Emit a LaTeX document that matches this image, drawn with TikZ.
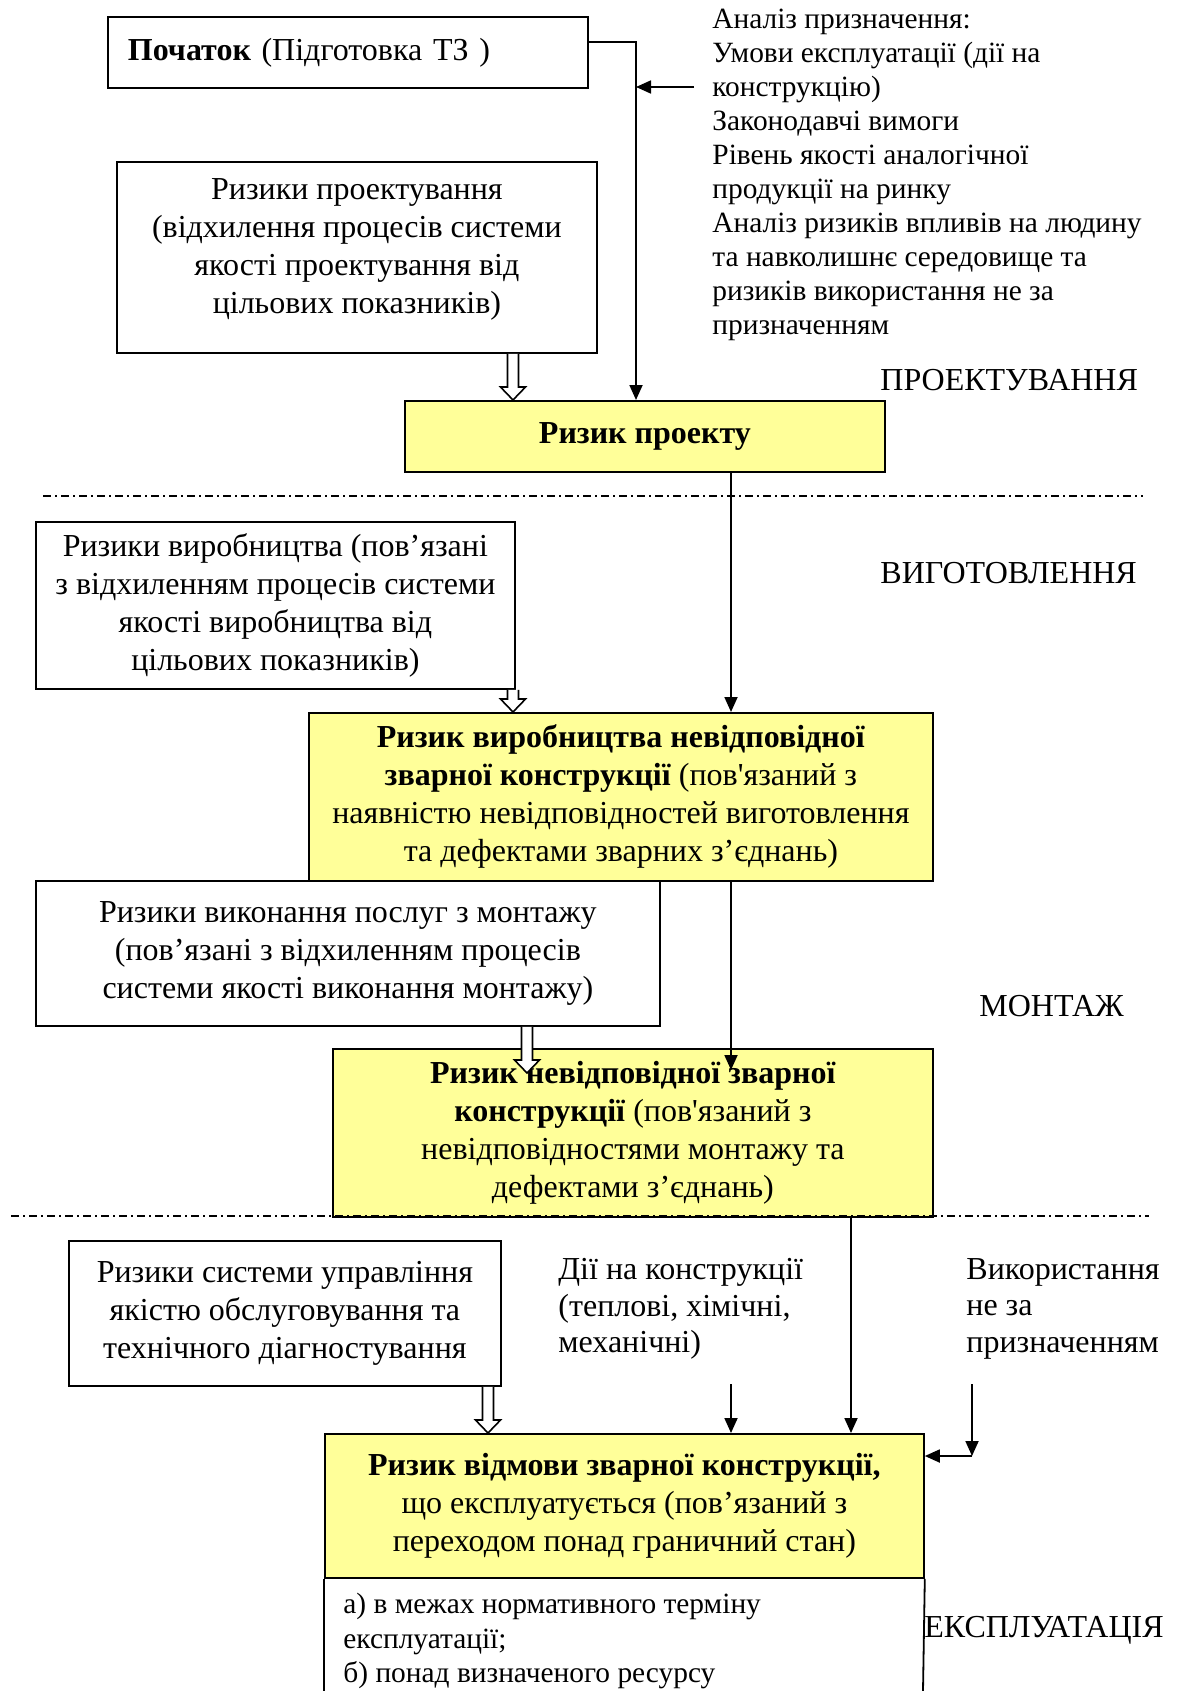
\documentclass[tikz,border=0pt]{standalone}
\usepackage{fontspec}
\setmainfont{Liberation Serif}
\newfontfamily\plainfont{Liberation Serif}
\usetikzlibrary{calc,arrows.meta}
\definecolor{boxyellow}{RGB}{255,255,153}
\newcommand\sq{{\plainfont\symbol{39}}}
\newcommand\hollowarr[4]{%
  \coordinate (hx) at (#1,0);
  \draw[line width=0.8pt, fill=white]
    ($(hx |- #2.south)+(-5.5,0)$) -- ($(hx |- #3.north)+(-5.5,#4-13)$) -- ++(-7,0)
    -- ($(hx |- #3.north)+(0,#4)$) -- ++(12.5,-13) -- ++(-7,0)
    -- ($(hx |- #2.south)+(5.5,0)$);
}
\tikzset{
  box/.style={draw, line width=0.9pt, inner sep=0pt, align=center, anchor=north west,
    font=\fontsize{16}{19}\selectfont},
  ybox/.style={box, fill=boxyellow},
  lbl/.style={inner sep=0pt, anchor=west, font=\fontsize{16}{19}\selectfont},
  small/.style={inner sep=0pt, anchor=north west, align=left, font=\fontsize{14.7}{17}\selectfont},
  conn/.style={line width=0.9pt, -{Triangle[length=7.5pt,width=6.5pt]}},
  sep/.style={line width=0.6pt, dash pattern=on 4pt off 2pt on 1pt off 2pt},
}
\begin{document}
\begin{tikzpicture}[x=0.5pt,y=-0.5pt]
\fill[white] (0,0) rectangle (1180,1691);
\useasboundingbox (0,0) rectangle (1180,1691);

% boxes
\node[box, minimum width=240pt, minimum height=35.5pt, align=left, text width=220pt] (start) at (107,16)
  {\textbf{Початок} (Підготовка ТЗ )};
\node[box, minimum width=240pt, minimum height=95.5pt, text depth=11pt] (rdes) at (116,161)
  {Ризики проектування\\(відхилення процесів системи\\якості проектування від\\цільових показників)};
\node[ybox, minimum width=240pt, minimum height=35.5pt, font=\fontsize{16}{19}\selectfont\bfseries] (rproj) at (404,400)
  {Ризик проекту};
\node[box, minimum width=239.5pt, minimum height=83.5pt] (rman) at (35,521)
  {Ризики виробництва (пов’язані\\з відхиленням процесів системи\\якості виробництва від\\цільових показників)};
\node[ybox, minimum width=312pt, minimum height=84pt] (y2) at (308,712)
  {\textbf{Ризик виробництва невідповідної}\\\textbf{зварної конструкції} (пов\sq язаний з\\наявністю невідповідностей виготовлення\\та дефектами зварних з’єднань)};
\node[box, minimum width=312pt, minimum height=72.5pt] (rmon) at (35,880)
  {Ризики виконання послуг з монтажу\\(пов’язані з відхиленням процесів\\системи якості виконання монтажу)};
\node[ybox, minimum width=300pt, minimum height=84pt] (y3) at (332,1048)
  {\textbf{Ризик невідповідної зварної}\\\textbf{конструкції} (пов\sq язаний з\\невідповідностями монтажу та\\дефектами з’єднань)};
\node[box, minimum width=216pt, minimum height=72.5pt] (rserv) at (68,1240)
  {Ризики системи управління\\якістю обслуговування та\\технічного діагностування};
\node[ybox, minimum width=299.5pt, minimum height=72pt] (y4) at (324,1433)
  {\textbf{Ризик відмови зварної конструкції,}\\що експлуатується (пов’язаний з\\переходом понад граничний стан)};

% lower open box
\coordinate (bl) at (324,1691);
\coordinate (br) at (923,1691);
\draw[line width=0.9pt] (y4.south west) -- (bl);
\draw[line width=0.9pt] (y4.south east) -- (br);
\node[small, font=\fontsize{14.7}{17.25}\selectfont] (terms) at (343,1593)
  {а) в межах нормативного терміну\\експлуатації;\\б) понад визначеного ресурсу};

% free texts
\node[small] (ana) at (712,9)
  {Аналіз призначення:\\Умови експлуатації (дії на\\конструкцію)\\Законодавчі вимоги\\Рівень якості аналогічної\\продукції на ринку\\Аналіз ризиків впливів на людину\\та навколишнє середовище та\\ризиків використання не за\\призначенням};
\node[lbl, anchor=north west, align=left, font=\fontsize{16}{18.3}\selectfont] (act) at (558,1258)
  {Дії на конструкції\\(теплові, хімічні,\\механічні)};
\node[lbl, anchor=north west, align=left, font=\fontsize{16}{18.3}\selectfont] (use) at (966,1258)
  {Використання\\не за\\призначенням};

% stage labels
\node[lbl] (l1) at (880,380) {ПРОЕКТУВАННЯ};
\node[lbl] (l2) at (880,573) {ВИГОТОВЛЕННЯ};
\node[lbl] (l3) at (979,1006) {МОНТАЖ};
\node[lbl] (l4) at (924,1630) {ЕКСПЛУАТАЦІЯ};

% separators
\coordinate (s1a) at (43,496);
\coordinate (s1b) at (1143,496);
\coordinate (s2a) at (11,1216);
\coordinate (s2b) at (1149,1216);
\draw[sep] (s1a) -- (s1b);
\draw[sep] (s2a) -- (s2b);

% connectors
\coordinate (c1) at (636,87);
\coordinate (a0) at (694,87);
\draw[conn] ($(start.east)+(0,-10)$) -| (c1 |- rproj.north);
\draw[conn] (a0) -- (c1);
\coordinate (v1) at (731,0);
\draw[conn] (v1 |- rproj.south) -- (v1 |- y2.north);
\draw[conn] (v1 |- y2.south) -- ($(v1 |- y3.north)+(0,22)$);
\coordinate (v2) at (851,0);
\draw[conn] (v2 |- y3.south) -- (v2 |- y4.north);
\coordinate (d0) at (731,1384);
\draw[conn] (d0) -- (d0 |- y4.north);
\coordinate (u0) at (972,1384);
\coordinate (u1) at (972,1456);
\draw[conn] (u0) -- (u1);
\draw[conn] (u1) -- (u1 -| y4.east);

% hollow arrows
\hollowarr{513}{rdes}{rproj}{0}
\hollowarr{513}{rman}{y2}{0}
\hollowarr{527}{rmon}{y3}{25}
\hollowarr{488}{rserv}{y4}{0}
\end{tikzpicture}
\end{document}
